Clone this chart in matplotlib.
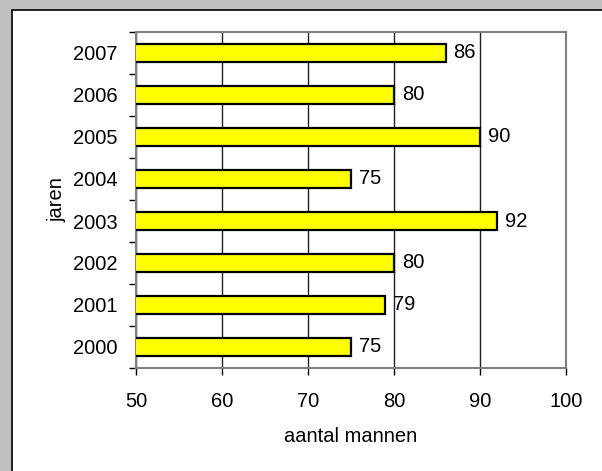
import matplotlib.pyplot as plt
from matplotlib.patches import Rectangle

# gegevens
jaren = ['2000', '2001', '2002', '2003', '2004', '2005', '2006', '2007']
mannen = [75, 79, 80, 92, 75, 90, 80, 86]

plt.rcParams['font.family'] = ['Liberation Sans', 'DejaVu Sans']
fs = 14.5

W, H = 602, 471
fig = plt.figure(figsize=(W / 100, H / 100), dpi=100)
fig.patch.set_facecolor('#c0c0c0')

# witte kaart met zwarte rand
fig.patches.append(Rectangle((12 / W, -0.1), 1.2, 1 - 10 / H + 0.1,
                             transform=fig.transFigure, facecolor='white',
                             edgecolor='black', linewidth=1.2, zorder=-1))

ax = fig.add_axes([136 / W, 1 - 368 / H, (566 - 136) / W, (368 - 32) / H])
ax.set_zorder(1)
ax.set_facecolor('white')

pos = list(range(len(jaren)))
ax.barh(pos, mannen, height=0.43, left=0, color='#ffff00',
        edgecolor='black', linewidth=1.6, zorder=3)
for p, v in zip(pos, mannen):
    ax.text(v + 0.9, p, str(v), va='center', ha='left', fontsize=fs, zorder=4)

ax.set_xlim(50, 100)
ax.set_ylim(-0.5, len(jaren) - 0.5)
ax.set_xticks([50, 60, 70, 80, 90, 100])
ax.set_yticks(pos)
ax.set_yticklabels(jaren)
ax.set_yticks([p - 0.5 for p in range(len(jaren) + 1)], minor=True)
ax.tick_params(axis='y', which='major', length=0, pad=13, labelsize=fs)
ax.tick_params(axis='y', which='minor', length=5, width=1, color='black', direction='out')
ax.tick_params(axis='x', length=5, width=1, color='black', direction='out',
               pad=12, labelsize=fs)
ax.xaxis.grid(True, color='#202020', linewidth=1, zorder=1)
for s in ax.spines.values():
    s.set_color('#808080')
    s.set_linewidth(1.5)

ax.set_xlabel('aantal mannen', fontsize=fs, labelpad=12)
ax.set_ylabel('jaren', fontsize=fs, labelpad=5)

fig.savefig('out.png', dpi=100, facecolor=fig.get_facecolor())
